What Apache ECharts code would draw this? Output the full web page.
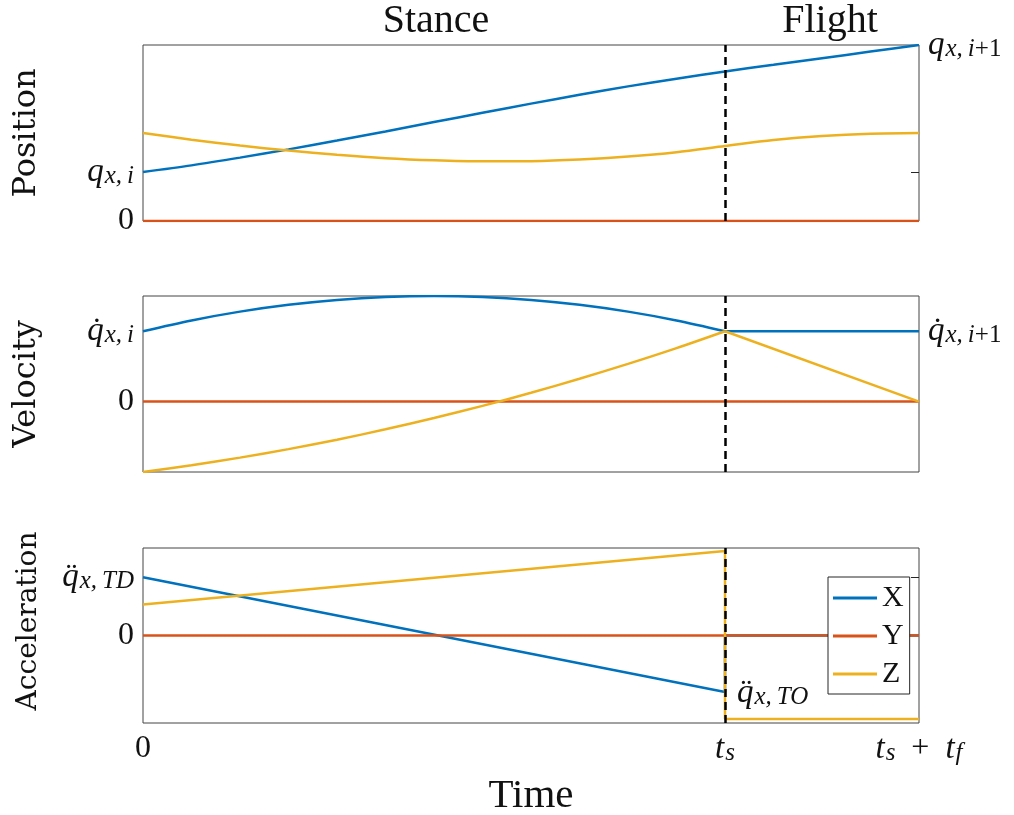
<!DOCTYPE html>
<html>
<head>
<meta charset="utf-8">
<script src="https://cdn.jsdelivr.net/npm/echarts@6/dist/echarts.min.js"></script>
<style>html,body{margin:0;padding:0;background:#fff;}#c{width:1014px;height:815px;}</style>
</head>
<body>
<div id="c"></div>
<script>
// ---------------- DATA ----------------
const TS = 3;            // stance duration (axis units)
const TF = 1;            // flight duration
const seriesNames = ['X', 'Y', 'Z'];
const phaseTitles = ['Stance', 'Flight'];
const panelNames = ['Position', 'Velocity', 'Acceleration'];
const xTickValues = [0, TS, TS + TF];

// Position panel
const tPos = [0, 0.25, 0.5, 0.75, 1, 1.25, 1.5, 1.75, 2, 2.25, 2.5, 2.75, 3, 3.25, 3.5, 3.75, 4];
const posX = [0.278, 0.316, 0.360, 0.407, 0.457, 0.509, 0.562, 0.615, 0.667, 0.717, 0.765, 0.808, 0.850, 0.8875, 0.925, 0.9625, 1.000];
const posZ = [0.500, 0.462, 0.429, 0.400, 0.376, 0.357, 0.345, 0.339, 0.340, 0.349, 0.366, 0.391, 0.426, 0.460, 0.483, 0.496, 0.500];
const tLine = [0, 4];
const posY = [0, 0];
const posTicks = [0, 0.278];     // 0, q_{x,i}
const posRightLabel = [1];       // q_{x,i+1}

// Velocity panel
const tVelStance = [0, 0.25, 0.5, 0.75, 1, 1.25, 1.5, 1.75, 2, 2.25, 2.5, 2.75, 3];
const velXStance = [1.000, 1.153, 1.278, 1.375, 1.444, 1.486, 1.500, 1.486, 1.444, 1.375, 1.278, 1.153, 1.000];
const velZStance = [-1.000, -0.905, -0.796, -0.675, -0.541, -0.394, -0.233, -0.061, 0.125, 0.324, 0.536, 0.760, 1.000];
const tVelFlight = [3, 4];
const velXFlight = [1.000, 1.000];
const velZFlight = [1.000, 0.000];
const velY = [0, 0];
const velTicks = [0, 1];          // 0, qdot_{x,i}
const velRightLabel = [1];        // qdot_{x,i+1}

// Acceleration panel
const tAcc = [0, 3, 3, 4];
const accX = [1.00, -0.97, 0, 0];
const accZ = [0.53, 1.45, -1.43, -1.43];
const accY = [0, 0];
const accTicks = [0, 1];          // 0, qddot_{x,TD}
const accTO = [3, -0.97];         // qddot_{x,TO}

// ---------------- HELPERS ----------------
const zip = (t, v) => t.map((x, i) => [x, v[i]]);
const COLORS = {X: '#0072BD', Y: '#D95319', Z: '#EDB120'};
const TXT = '#111';
const SERIF = 'Liberation Serif';

const rich = {
  n: {fontSize: 32, fontFamily: SERIF, color: TXT, lineHeight: 40},
  q: {fontSize: 33, fontFamily: SERIF, fontStyle: 'italic', color: TXT, lineHeight: 40},
  p: {fontSize: 32, fontFamily: SERIF, color: TXT, lineHeight: 40},
  s: {fontSize: 25, fontFamily: SERIF, fontStyle: 'italic', color: TXT, lineHeight: 25, padding: [9, 0, 0, 1]},
  u: {fontSize: 25, fontFamily: SERIF, color: TXT, lineHeight: 25, padding: [9, 0, 0, 0]}
};

const grids = [
  {left: 143, width: 776, top: 45, height: 176},
  {left: 143, width: 776, top: 296, height: 176},
  {left: 143, width: 776, top: 548, height: 175}
].map(g => Object.assign(g, {show: true, borderColor: '#444', borderWidth: 1, containLabel: false, outerBoundsMode: 'none', backgroundColor: 'transparent'}));

function xAxisFor(i) {
  const last = i === 2;
  return {
    type: 'value', gridIndex: i, min: 0, max: TS + TF,
    axisLine: {show: false}, axisTick: {show: false}, splitLine: {show: false},
    axisLabel: {
      show: last, customValues: xTickValues, margin: 6,
      formatter: v => v === 0 ? '{n|0}' : (v === TS ? '{q|t}{s|s}' : '{q|t}{s|s}{p|  +  }{q|t}{s|f}'),
      rich: rich, showMinLabel: true, showMaxLabel: true
    },
    name: last ? 'Time' : '', nameLocation: 'middle', nameGap: 53,
    nameTextStyle: {fontSize: 41, fontFamily: SERIF, color: TXT}
  };
}

function yLeft(i, min, max, ticks, fmt, nameSize, namePad) {
  return {
    type: 'value', gridIndex: i, min: min, max: max, position: 'left',
    axisLine: {show: false}, splitLine: {show: false},
    axisTick: {show: false},
    axisLabel: {customValues: ticks, margin: 9, formatter: fmt, rich: rich},
    name: panelNames[i], nameLocation: 'middle', nameGap: 100, nameRotate: 90,
    nameTextStyle: {fontSize: nameSize, fontFamily: 'DejaVu Serif', color: TXT, padding: namePad || 0}
  };
}
function yRight(i, min, max, ticks, labels, fmt) {
  return {
    type: 'value', gridIndex: i, min: min, max: max, position: 'right',
    axisLine: {show: false}, splitLine: {show: false},
    axisTick: {show: true, inside: true, length: 8, customValues: ticks, lineStyle: {color: '#262626', width: 1}},
    axisLabel: {show: labels.length > 0, customValues: labels.length ? labels : [max], margin: 9, formatter: fmt, rich: rich}
  };
}

function line(name, data, xi, yi, smooth, extra) {
  return Object.assign({
    name: name, type: 'line', xAxisIndex: xi, yAxisIndex: yi, data: data,
    showSymbol: false, symbol: 'none', smooth: smooth || false,
    lineStyle: {color: COLORS[name], width: 2.5},
    itemStyle: {color: COLORS[name]},
    emphasis: {disabled: true}
  }, extra || {});
}

const dashed = {
  silent: true, symbol: ['none', 'none'], label: {show: false},
  lineStyle: {color: '#000', type: [8, 5], width: 2.5},
  emphasis: {disabled: true},
  data: [{xAxis: TS}]
};

const option = {
  animation: false,
  backgroundColor: '#fff',
  textStyle: {fontFamily: SERIF},
  title: [
    {text: phaseTitles[0], left: 436, top: 1, textAlign: 'center', padding: 0,
     textStyle: {fontSize: 40, fontWeight: 'normal', fontFamily: SERIF, color: TXT}},
    {text: phaseTitles[1], left: 830, top: 1, textAlign: 'center', padding: 0,
     textStyle: {fontSize: 40, fontWeight: 'normal', fontFamily: SERIF, color: TXT}}
  ],
  legend: {
    data: seriesNames, orient: 'vertical', left: 828, top: 577,
    padding: [6, 6, 5, 5], itemWidth: 44, itemHeight: 3, itemGap: 8, icon: 'rect',
    backgroundColor: '#fff', borderColor: '#262626', borderWidth: 1, borderRadius: 0,
    selectedMode: false,
    textStyle: {fontSize: 30, fontFamily: SERIF, color: TXT, lineHeight: 30}
  },
  grid: grids,
  xAxis: [xAxisFor(0), xAxisFor(1), xAxisFor(2)],
  yAxis: [
    yLeft(0, 0, 1, posTicks, v => v === 0 ? '{n|0}' : '{q|q}{s|x,\u2009i}', 32),
    yRight(0, 0, 1, posTicks, posRightLabel, () => '{q|q}{s|x,\u2009i}{u|+1}'),
    yLeft(1, -1, 1.5, velTicks, v => v === 0 ? '{n|0}' : '{q|q\u0307}{s|x,\u2009i}', 32),
    yRight(1, -1, 1.5, velTicks, velRightLabel, () => '{q|q\u0307}{s|x,\u2009i}{u|+1}'),
    yLeft(2, -1.5, 1.5, accTicks, v => v === 0 ? '{n|0}' : '{q|q\u0308}{s|x,\u2009TD}', 28, [0, 0, 0, 29]),
    yRight(2, -1.5, 1.5, [1], [], () => '')
  ],
  series: [
    // Position
    line('X', zip(tPos, posX), 0, 0, 0.3),
    line('Y', zip(tLine, posY), 0, 0),
    line('Z', zip(tPos, posZ), 0, 0, 0.3, {markLine: dashed}),
    // Velocity
    line('X', zip(tVelStance, velXStance), 1, 2, 0.3),
    line('X', zip(tVelFlight, velXFlight), 1, 2),
    line('Y', zip(tLine, velY), 1, 2),
    line('Z', zip(tVelStance, velZStance), 1, 2, 0.3),
    line('Z', zip(tVelFlight, velZFlight), 1, 2, false, {markLine: dashed}),
    // Acceleration
    line('X', zip(tAcc, accX), 2, 4, false, {
      markPoint: {
        silent: true, symbol: 'circle', symbolSize: 0,
        data: [{coord: accTO}],
        label: {show: true, position: 'right', distance: 12, offset: [0, 1],
                formatter: () => '{q|q\u0308}{s|x,\u2009TO}', rich: rich}
      }
    }),
    line('Y', zip(tLine, accY), 2, 4),
    line('Z', zip(tAcc, accZ), 2, 4, false, {markLine: dashed})
  ]
};

const chart = echarts.init(document.getElementById('c'), null, {renderer: 'canvas'});
chart.setOption(option);
</script>
</body>
</html>
